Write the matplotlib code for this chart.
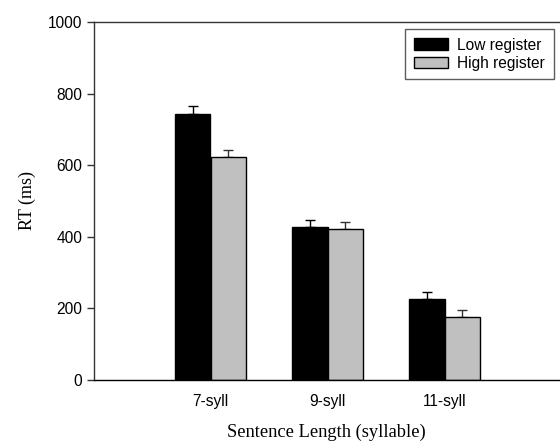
import matplotlib
matplotlib.use("Agg")
import matplotlib.pyplot as plt
import numpy as np

categories = ["7-syll", "9-syll", "11-syll"]
low_register = [742, 426, 225]
low_err = [22, 20, 22]
high_register = [622, 421, 175]
high_err = [21, 19, 20]
series_names = ["Low register", "High register"]

fig = plt.figure(figsize=(5.6, 4.41), dpi=100)
W, H = 560, 441
left, right, top, bottom = 93.5, 560, 22, 380
ax = fig.add_axes([left / W, 1 - bottom / H, (right - left) / W, (bottom - top) / H])

x = np.arange(1, len(categories) + 1)
bw = 0.3
ax.bar(x - bw / 2, low_register, bw, color="black", edgecolor="black", linewidth=1,
       label=series_names[0], zorder=2)
ax.bar(x + bw / 2, high_register, bw, color="#c0c0c0", edgecolor="black", linewidth=1,
       label=series_names[1], zorder=2)
ax.errorbar(x - bw / 2, low_register, yerr=[np.zeros(3), low_err], fmt="none",
            ecolor="black", elinewidth=1, capsize=3.6, capthick=1, zorder=1)
ax.errorbar(x + bw / 2, high_register, yerr=[np.zeros(3), high_err], fmt="none",
            ecolor="#333333", elinewidth=1, capsize=3.6, capthick=1, zorder=1)

ax.set_xlim(0, (right - left) / 117.0)
ax.set_ylim(0, 1000)
ax.set_yticks([0, 200, 400, 600, 800, 1000])
ax.set_xticks(x)
ax.set_xticklabels(categories)
ax.tick_params(axis="x", length=0, pad=10)
ax.tick_params(axis="y", length=5, width=1, direction="out", pad=3, color="#333333")
for lab in ax.get_xticklabels() + ax.get_yticklabels():
    lab.set_fontfamily("Liberation Sans")
    lab.set_fontsize(11.2)

for s in ["left", "bottom", "top"]:
    ax.spines[s].set_linewidth(1)
    ax.spines[s].set_color("#333333")
ax.spines["bottom"].set_color("black")
ax.spines["right"].set_visible(False)

ax.set_ylabel("RT (ms)", fontfamily="Liberation Serif", fontsize=13, labelpad=9)
ax.set_xlabel("Sentence Length (syllable)", fontfamily="Liberation Serif", fontsize=13.3, labelpad=11)

leg = ax.legend(loc="upper right", bbox_to_anchor=((553.5 - left) / (right - left), (bottom - 29) / (bottom - top)),
                prop={"family": "Liberation Sans", "size": 11.2}, frameon=True, fancybox=False,
                edgecolor="#333333", handlelength=2.2, handleheight=0.75, handletextpad=0.6,
                labelspacing=0.2, borderpad=0.55, borderaxespad=0)
leg.get_frame().set_linewidth(1)

fig.savefig("out.png", dpi=100)
